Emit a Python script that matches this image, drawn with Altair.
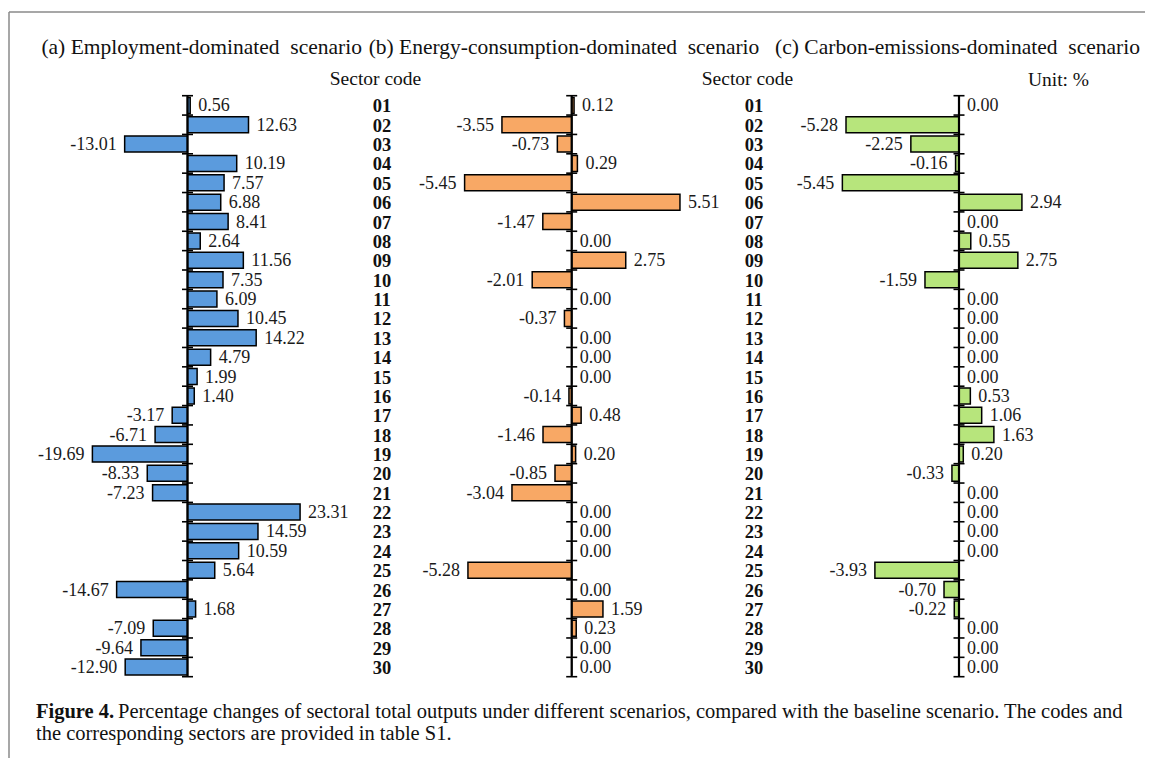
import altair as alt
import pandas as pd

CODES = ["01", "02", "03", "04", "05", "06", "07", "08", "09", "10",
         "11", "12", "13", "14", "15", "16", "17", "18", "19", "20",
         "21", "22", "23", "24", "25", "26", "27", "28", "29", "30"]

EMPLOYMENT = [0.56, 12.63, -13.01, 10.19, 7.57, 6.88, 8.41, 2.64, 11.56, 7.35,
              6.09, 10.45, 14.22, 4.79, 1.99, 1.40, -3.17, -6.71, -19.69, -8.33,
              -7.23, 23.31, 14.59, 10.59, 5.64, -14.67, 1.68, -7.09, -9.64, -12.90]
ENERGY = [0.12, -3.55, -0.73, 0.29, -5.45, 5.51, -1.47, 0.00, 2.75, -2.01,
          0.00, -0.37, 0.00, 0.00, 0.00, -0.14, 0.48, -1.46, 0.20, -0.85,
          -3.04, 0.00, 0.00, 0.00, -5.28, 0.00, 1.59, 0.23, 0.00, 0.00]
CARBON = [0.00, -5.28, -2.25, -0.16, -5.45, 2.94, 0.00, 0.55, 2.75, -1.59,
          0.00, 0.00, 0.00, 0.00, 0.00, 0.53, 1.06, 1.63, 0.20, -0.33,
          0.00, 0.00, 0.00, 0.00, -3.93, -0.70, -0.22, 0.00, 0.00, 0.00]

TITLES = ["(a) Employment-dominated\u00a0 scenario",
          "(b) Energy-consumption-dominated\u00a0 scenario",
          "(c) Carbon-emissions-dominated\u00a0 scenario"]
HEADER = "Sector code"
UNIT = "Unit: %"
CAP_BOLD = "Figure 4."
CAP_LINE1 = ("Percentage changes of sectoral total outputs under different scenarios, "
             "compared with the baseline scenario. The codes and")
CAP_LINE2 = "the corresponding sectors are provided in table S1."

# ---- layout (view pixels) ----
W, H = 1137, 750
FONT = "Liberation Serif"
Y_TOP, Y_BOTTOM = 87.7, 668.7
ys = alt.Scale(type="band", domain=CODES, range=[Y_TOP, Y_BOTTOM],
               paddingInner=0, paddingOuter=0)

panels = [
    dict(vals=EMPLOYMENT, zero=179.5, px=4.83, dom=30, color="#5B9BDD", title_x=193.7),
    dict(vals=ENERGY, zero=563.7, px=19.65, dom=7, color="#F8A865", title_x=556),
    dict(vals=CARBON, zero=951.0, px=21.4, dom=7, color="#B7E57C", title_x=949.5),
]
CODE_COLS = [374, 746]
HEADER_X = [367.5, 739.5]

codes_df = pd.DataFrame({"code": CODES})
one = pd.DataFrame({"k": [0]})

layers = []

# frame (left and top edges)
layers.append(alt.Chart(one).mark_rule(color="#8a8a8a", strokeWidth=1.5).encode(
    x=alt.value(1), x2=alt.value(W), y=alt.value(4)))
layers.append(alt.Chart(one).mark_rule(color="#8a8a8a", strokeWidth=1.5).encode(
    x=alt.value(1), y=alt.value(4), y2=alt.value(H)))

for p, t in zip(panels, TITLES):
    vals = p["vals"]
    df = pd.DataFrame({"code": CODES, "v": vals,
                       "lbl": [f"{v:.2f}" for v in vals]})
    xs = alt.Scale(domain=[-p["dom"], p["dom"]],
                   range=[p["zero"] - p["dom"] * p["px"], p["zero"] + p["dom"] * p["px"]],
                   nice=False, zero=True)
    base = alt.Chart(df)
    bars = base.mark_bar(size=16, fill=p["color"], stroke="black", strokeWidth=1.5).encode(
        x=alt.X("v:Q", scale=xs, axis=None),
        y=alt.Y("code:N", scale=ys, axis=None))
    pos = base.transform_filter("datum.v >= 0").mark_text(
        align="left", baseline="middle", dx=8, dy=1, font=FONT, fontSize=18, color="#1a1a1a").encode(
        x=alt.X("v:Q", scale=xs, axis=None),
        y=alt.Y("code:N", scale=ys, axis=None), text="lbl:N")
    neg = base.transform_filter("datum.v < 0").mark_text(
        align="right", baseline="middle", dx=-8, dy=1, font=FONT, fontSize=18, color="#1a1a1a").encode(
        x=alt.X("v:Q", scale=xs, axis=None),
        y=alt.Y("code:N", scale=ys, axis=None), text="lbl:N")
    axis_line = alt.Chart(one).mark_rule(color="black", strokeWidth=2.2).encode(
        x=alt.X(datum=0, type="quantitative", scale=xs, axis=None),
        y=alt.value(Y_TOP), y2=alt.value(Y_BOTTOM))
    k = 5.5 / p["px"]
    ticks = alt.Chart(codes_df).mark_rule(color="black", strokeWidth=1.6).encode(
        x=alt.X(datum=-k, type="quantitative", scale=xs, axis=None),
        x2=alt.X2(datum=k),
        y=alt.Y("code:N", bandPosition=0, scale=ys, axis=None))
    last_tick = alt.Chart(one).mark_rule(color="black", strokeWidth=1.6).encode(
        x=alt.X(datum=-k, type="quantitative", scale=xs, axis=None),
        x2=alt.X2(datum=k),
        y=alt.value(Y_BOTTOM))
    title = alt.Chart(one).mark_text(align="center", baseline="middle", font=FONT,
                                     fontSize=21.5, color="#111", text=t).encode(
        x=alt.value(p["title_x"]), y=alt.value(40))
    layers += [bars, pos, neg, axis_line, ticks, last_tick, title]

for cx, hx in zip(CODE_COLS, HEADER_X):
    layers.append(alt.Chart(codes_df).mark_text(
        align="center", baseline="middle", dy=1, font=FONT, fontSize=18.5,
        fontWeight="bold", color="#111").encode(
        x=alt.value(cx), y=alt.Y("code:N", scale=ys, axis=None), text="code:N"))
    layers.append(alt.Chart(one).mark_text(
        align="center", baseline="middle", font=FONT, fontSize=19.5, color="#111",
        text=HEADER).encode(x=alt.value(hx), y=alt.value(71)))

layers.append(alt.Chart(one).mark_text(
    align="center", baseline="middle", font=FONT, fontSize=19.5, color="#111",
    text=UNIT).encode(x=alt.value(1050.5), y=alt.value(72)))

# caption
CAP_SIZE = 20.5
layers.append(alt.Chart(one).mark_text(
    align="left", baseline="middle", font=FONT, fontSize=CAP_SIZE, fontWeight="bold",
    color="#111", text=CAP_BOLD).encode(x=alt.value(28), y=alt.value(704)))
layers.append(alt.Chart(one).mark_text(
    align="left", baseline="middle", font=FONT, fontSize=CAP_SIZE,
    color="#111", text=CAP_LINE1).encode(x=alt.value(110), y=alt.value(704)))
layers.append(alt.Chart(one).mark_text(
    align="left", baseline="middle", font=FONT, fontSize=CAP_SIZE,
    color="#111", text=CAP_LINE2).encode(x=alt.value(28), y=alt.value(726)))

chart = alt.layer(*layers).resolve_scale(x="independent").properties(
    width=W, height=H, padding=0, autosize=alt.AutoSizeParams(type="none"),
    background="white"
).configure_view(stroke=None)

chart.save("out.html", embed_options={"renderer": "svg", "actions": False})
